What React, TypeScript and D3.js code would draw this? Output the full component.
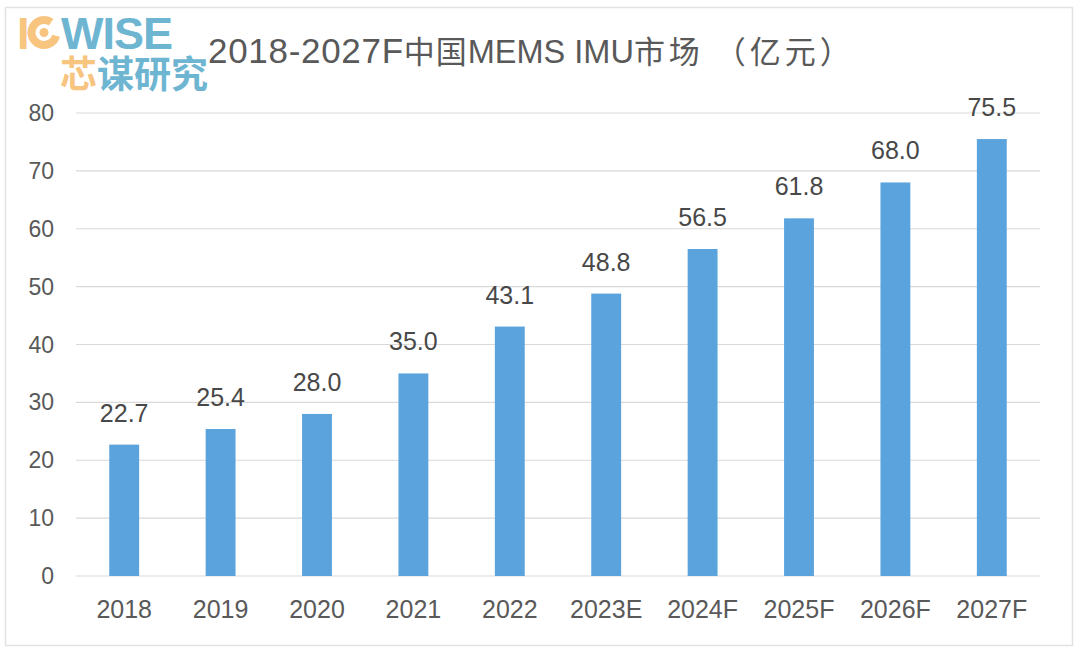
import React from 'react';
import * as d3 from 'd3';

const width = 1080;
const height = 654;
const margin = { top: 113, right: 40, bottom: 78, left: 76 };

const years: string[] = ['2018', '2019', '2020', '2021', '2022', '2023E', '2024F', '2025F', '2026F', '2027F'];
const values: number[] = [22.7, 25.4, 28.0, 35.0, 43.1, 48.8, 56.5, 61.8, 68.0, 75.5];
const yTicks: number[] = [0, 10, 20, 30, 40, 50, 60, 70, 80];

// title pieces: 2018-2027F中国MEMS IMU市场 （亿元）
const titleYears = '2018-2027F';
const titleCn1 = '中国';
const titleLatin = 'MEMS IMU';
const titleCn2 = '市场 （亿元）';
const font = '"Liberation Sans", Arial, "Noto Sans CJK SC", sans-serif';
const cjkFont = '"Noto Sans CJK SC", sans-serif';
const barColor = '#5ba3dc';
const orange = '#f7c580';
const teal = '#6eb5d2';

const Chart = () => {
    const innerW = width - margin.left - margin.right;
    const innerH = height - margin.top - margin.bottom;

    const x = d3.scaleBand<string>()
        .domain(years)
        .range([0, innerW])
        .paddingInner(0.69)
        .paddingOuter(0.345);

    const y = d3.scaleLinear()
        .domain([0, 80])
        .range([innerH, 0]);

    const ring = 2 * Math.PI * 12.5;

    return (
        <svg width={width} height={height} style={{ position: 'absolute', left: 0, top: 0, background: '#fff' }}>
            <rect x={5.5} y={7.5} width={1067} height={638} fill="none" stroke="#e2e2e2" strokeWidth={1.5} />

            {/* logo */}
            <g fontFamily={font} fontWeight="bold">
                <text x={17} y={49} fontSize={45} fill={orange}>I</text>
                <circle cx={44} cy={32.5} r={12.5} fill="none" stroke={orange} strokeWidth={8}
                    strokeDasharray={`${ring * 0.8} ${ring * 0.2}`}
                    transform="rotate(15 44 32.5)" />
                <circle cx={44} cy={32.5} r={4.5} fill={orange} />
                <text x={61} y={49} fontSize={45} fill={teal} letterSpacing={-1}>WISE</text>
                <text x={60} y={88} fontSize={37} fontFamily={cjkFont}>
                    <tspan fill={orange}>芯</tspan>
                    <tspan fill={teal}>谋研究</tspan>
                </text>
            </g>

            <text x={208} y={63} fontFamily={font} fill="#595959">
                <tspan fontSize={35} letterSpacing={0.7}>{titleYears}</tspan>
                <tspan fontFamily={cjkFont} fontSize={31} letterSpacing={1}>{titleCn1}</tspan>
                <tspan fontSize={32.5}>{titleLatin}</tspan>
                <tspan fontFamily={cjkFont} fontSize={31} letterSpacing={4}>{titleCn2}</tspan>
            </text>

            <g transform={`translate(${margin.left},${margin.top})`} fontFamily={font}>
                {yTicks.map(t => (
                    <g key={t}>
                        <line x1={0} x2={innerW} y1={y(t)} y2={y(t)} stroke="#d9d9d9" strokeWidth={1.2} />
                        <text x={-22} y={y(t)} dy="0.35em" textAnchor="end" fontSize={23} fill="#595959">{t}</text>
                    </g>
                ))}
                {years.map((yr, i) => (
                    <g key={yr}>
                        <rect x={x(yr)} y={y(values[i])} width={x.bandwidth()} height={innerH - y(values[i])} fill={barColor} />
                        <text x={(x(yr) ?? 0) + x.bandwidth() / 2} y={y(values[i]) - 23} textAnchor="middle" fontSize={25} fill="#484848">
                            {values[i].toFixed(1)}
                        </text>
                        <text x={(x(yr) ?? 0) + x.bandwidth() / 2} y={innerH + 42} textAnchor="middle" fontSize={25} fill="#595959">
                            {yr}
                        </text>
                    </g>
                ))}
            </g>
        </svg>
    );
};

export const App = () => <Chart />;

export default App;
